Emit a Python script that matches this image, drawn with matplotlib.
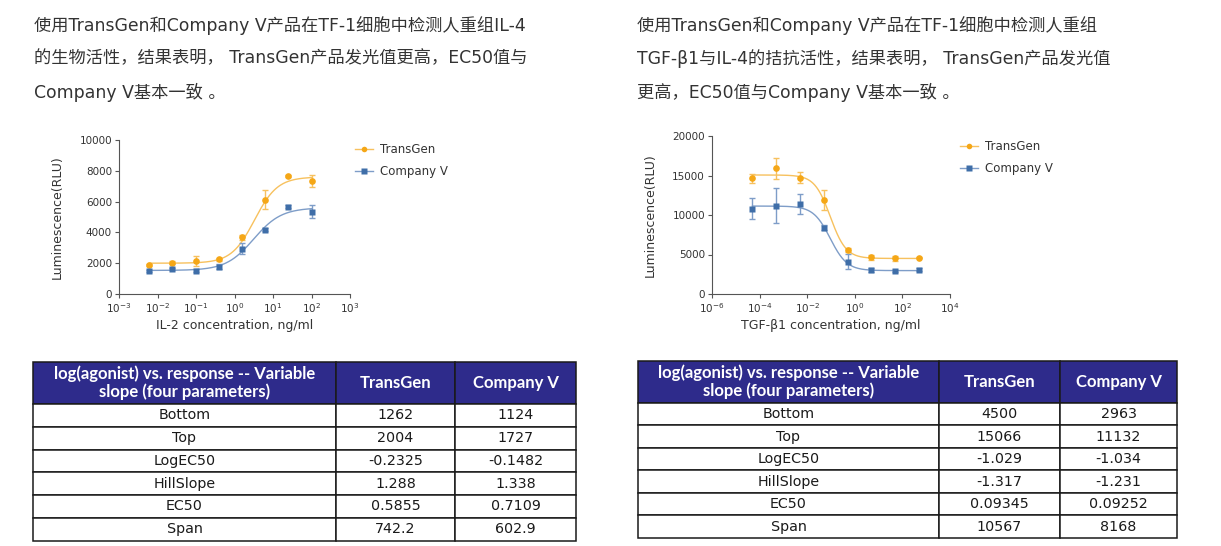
import numpy as np
import matplotlib
matplotlib.use('Agg')
import matplotlib.pyplot as plt
from matplotlib.lines import Line2D
from matplotlib.ticker import FixedLocator, NullLocator, LogFormatterSciNotation

W, H = 1221, 546

# 文字说明
text_left = ["使用TransGen和Company V产品在TF-1细胞中检测人重组IL-4",
             "的生物活性，结果表明， TransGen产品发光值更高，EC50值与",
             "Company V基本一致 。"]
text_right = ["使用TransGen和Company V产品在TF-1细胞中检测人重组",
              "TGF-β1与IL-4的拮抗活性，结果表明， TransGen产品发光值",
              "更高，EC50值与Company V基本一致 。"]

# IL-2 曲线数据
il2_conc = [0.0061, 0.024, 0.098, 0.39, 1.56, 6.25, 25, 100]
il2_transgen = [1880, 2035, 2170, 2250, 3680, 6125, 7660, 7340]
il2_transgen_sd = [60, 80, 320, 80, 150, 620, 60, 410]
il2_companyv = [1515, 1600, 1515, 1775, 2940, 4180, 5670, 5350]
il2_companyv_sd = [60, 60, 100, 150, 350, 100, 80, 430]
# 拟合参数 (bottom, top, EC50, hill) 按图估读
il2_fit_transgen = [2000, 7600, 3.3, 1.45]
il2_fit_companyv = [1530, 5600, 3.14, 1.21]

# TGF-β1 曲线数据
tgf_conc = [5e-5, 5e-4, 5e-3, 0.05, 0.5, 5, 50, 500]
tgf_transgen = [14640, 15900, 14730, 11940, 5530, 4640, 4510, 4600]
tgf_transgen_sd = [590, 1350, 680, 1250, 250, 300, 300, 100]
tgf_companyv = [10800, 11180, 11390, 8400, 4090, 3000, 2910, 3080]
tgf_companyv_sd = [1290, 2230, 1270, 300, 930, 250, 150, 150]

# 表格
table_header = ["log(agonist) vs. response -- Variable\nslope (four parameters)", "TransGen", "Company V"]
param_names = ["Bottom", "Top", "LogEC50", "HillSlope", "EC50", "Span"]
il2_table_transgen = ["1262", "2004", "-0.2325", "1.288", "0.5855", "742.2"]
il2_table_companyv = ["1124", "1727", "-0.1482", "1.338", "0.7109", "602.9"]
tgf_table_transgen = ["4500", "15066", "-1.029", "-1.317", "0.09345", "10567"]
tgf_table_companyv = ["2963", "11132", "-1.034", "-1.231", "0.09252", "8168"]
tgf_fit_transgen = [4500, 15066, 10 ** -1.029, -1.317]
tgf_fit_companyv = [2963, 11132, 10 ** -1.034, -1.231]

ORANGE = '#f5a717'
ORANGE_L = '#f7c15e'
BLUE = '#3f6ea8'
BLUE_L = '#7e9dc8'
TXT = '#333333'
HEAD_BG = '#2e2b8b'


def px_rect(x0, y0, x1, y1):
    return [x0 / W, 1 - y1 / H, (x1 - x0) / W, (y1 - y0) / H]


def four_pl(x, p):
    bottom, top, ec50, hill = p
    return bottom + (top - bottom) / (1 + (ec50 / x) ** hill)


fig = plt.figure(figsize=(W / 100, H / 100), dpi=100)

# 段落
para_font = ['DejaVu Sans', 'Noto Sans CJK SC']
for i, line in enumerate(text_left):
    fig.text(34 / W, 1 - [26, 58.5, 92][i] / H, line, fontsize=12.4, color=TXT,
             family=para_font, va='center', ha='left')
for i, line in enumerate(text_right):
    fig.text(637 / W, 1 - [26, 58.5, 92][i] / H, line, fontsize=12.4, color=TXT,
             family=para_font, va='center', ha='left')


def draw_chart(rect, conc, tg, tg_sd, cv, cv_sd, fit_tg, fit_cv, xlim, xticks, ylim, yticks, xlabel, legend_xy):
    ax = fig.add_axes(rect)
    xs = np.logspace(np.log10(conc[0]), np.log10(conc[-1]), 300)
    ax.plot(xs, four_pl(xs, fit_tg), color=ORANGE_L, lw=1.0, zorder=2)
    ax.plot(xs, four_pl(xs, fit_cv), color=BLUE_L, lw=1.0, zorder=2)
    ax.errorbar(conc, tg, yerr=tg_sd, fmt='none', ecolor=ORANGE_L, elinewidth=1.0, capsize=2.5, capthick=1.0, zorder=3)
    ax.errorbar(conc, cv, yerr=cv_sd, fmt='none', ecolor=BLUE_L, elinewidth=1.0, capsize=2.5, capthick=1.0, zorder=3)
    ax.plot(conc, tg, 'o', color=ORANGE, ms=4.8, mec='none', zorder=4)
    ax.plot(conc, cv, 's', color=BLUE, ms=4.4, mec='none', zorder=4)
    ax.set_xscale('log')
    ax.set_xlim(xlim)
    ax.set_ylim(ylim)
    ax.xaxis.set_major_locator(FixedLocator(xticks))
    ax.xaxis.set_minor_locator(NullLocator())
    ax.xaxis.set_major_formatter(LogFormatterSciNotation())
    ax.set_yticks(yticks)
    for s in ['top', 'right']:
        ax.spines[s].set_visible(False)
    for s in ['left', 'bottom']:
        ax.spines[s].set_color('#555555')
        ax.spines[s].set_linewidth(0.8)
    ax.tick_params(length=3, width=0.8, color='#555555', labelsize=7.5, labelcolor=TXT, pad=2)
    ax.set_xlabel(xlabel, fontsize=9, color=TXT, labelpad=3)
    ax.set_ylabel('Luminescence(RLU)', fontsize=9, color=TXT, labelpad=11)
    handles = [Line2D([], [], color=ORANGE_L, lw=1, marker='o', ms=4, mfc=ORANGE, mec='none'),
               Line2D([], [], color=BLUE_L, lw=1, marker='s', ms=4, mfc=BLUE, mec='none')]
    fig.legend(handles, ['TransGen', 'Company V'], loc='upper left',
               bbox_to_anchor=(legend_xy[0] / W, 1 - legend_xy[1] / H), frameon=False,
               fontsize=8.5, labelcolor=TXT, handlelength=1.5, handletextpad=0.6,
               labelspacing=0.75, borderpad=0, borderaxespad=0)
    return ax


draw_chart(px_rect(119, 140, 350, 294), il2_conc, il2_transgen, il2_transgen_sd,
           il2_companyv, il2_companyv_sd, il2_fit_transgen, il2_fit_companyv,
           (1e-3, 1e3), [10.0 ** k for k in range(-3, 4)], (0, 10000),
           range(0, 10001, 2000), 'IL-2 concentration, ng/ml', (355, 143))
draw_chart(px_rect(712, 136, 950, 294), tgf_conc, tgf_transgen, tgf_transgen_sd,
           tgf_companyv, tgf_companyv_sd, tgf_fit_transgen, tgf_fit_companyv,
           (1e-6, 1e4), [10.0 ** k for k in range(-6, 5, 2)], (0, 20000),
           range(0, 20001, 5000), 'TGF-β1 concentration, ng/ml', (960, 140))


def draw_table(rect, col_widths, col_tg, col_cv):
    ax = fig.add_axes(rect)
    ax.axis('off')
    cells = [[n, a, b] for n, a, b in zip(param_names, col_tg, col_cv)]
    tb = ax.table(cellText=cells, colLabels=table_header, colWidths=col_widths,
                  cellLoc='center', bbox=[0, 0, 1, 1])
    tb.auto_set_font_size(False)
    for (r, c), cell in tb.get_celld().items():
        cell.set_edgecolor('#1a1a1a')
        cell.set_linewidth(1.1)
        if r == 0:
            cell.set_height(42)
            cell.set_facecolor(HEAD_BG)
            cell.get_text().set_color('white')
            cell.get_text().set_fontsize(12)
            cell.get_text().set_fontweight('bold')
            cell.get_text().set_family('Lato')
            cell.get_text().set_linespacing(1.1)
        else:
            cell.set_height(22.7)
            cell.get_text().set_color('#1a1a1a')
            cell.get_text().set_fontsize(10.3)
            cell.get_text().set_family('DejaVu Sans')
    return ax


draw_table(px_rect(33, 362, 576, 540.5), [303, 119, 121], il2_table_transgen, il2_table_companyv)
draw_table(px_rect(638, 361, 1177, 538), [301, 121, 117], tgf_table_transgen, tgf_table_companyv)

fig.savefig('out.png', dpi=100, facecolor='white')
